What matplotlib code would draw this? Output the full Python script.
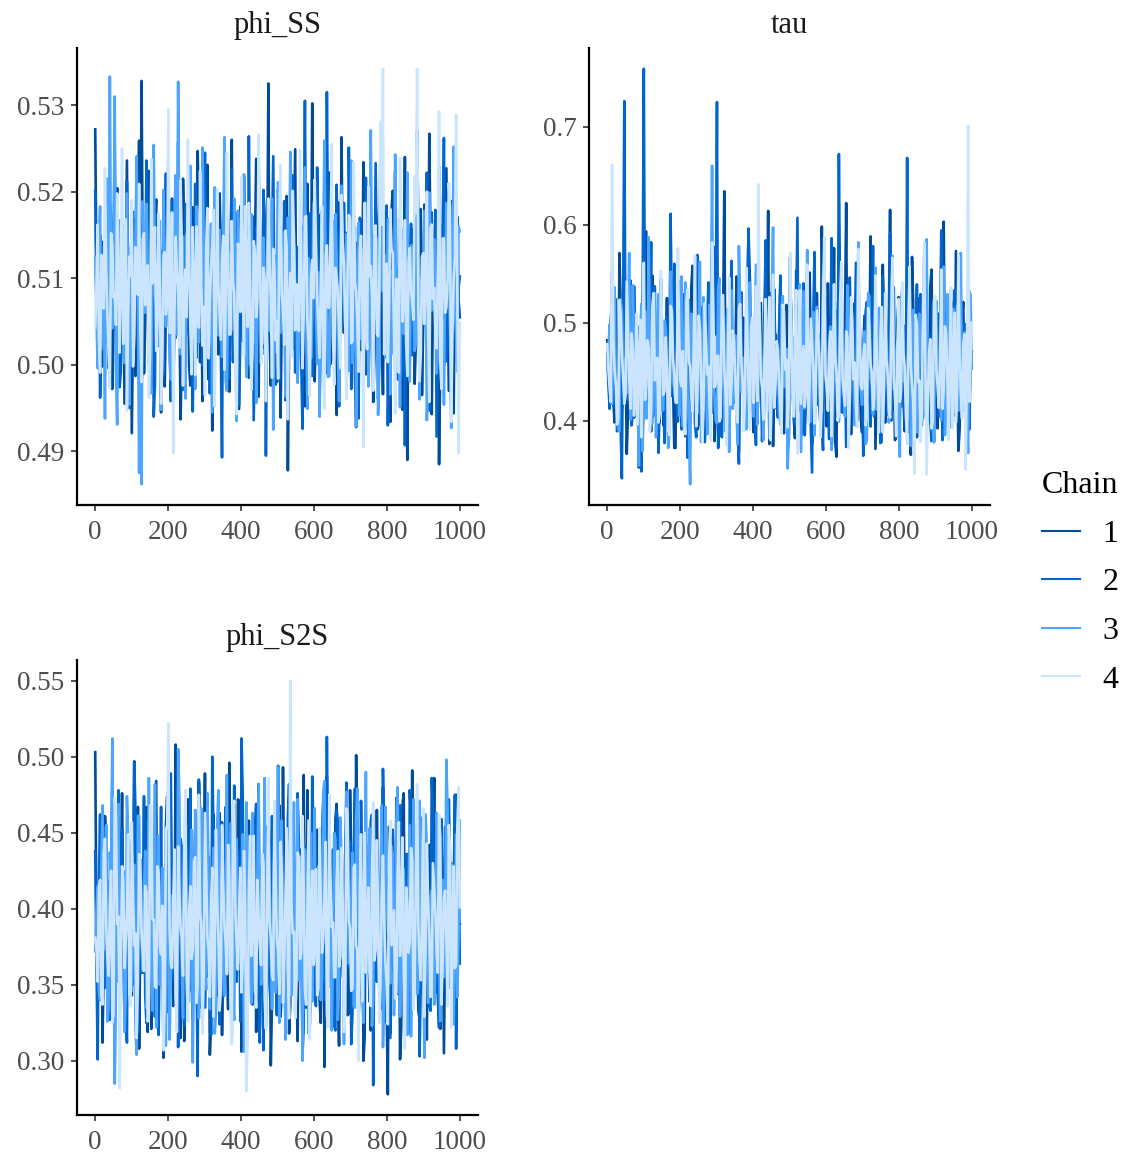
import numpy as np
import matplotlib
matplotlib.use("Agg")
import matplotlib.pyplot as plt
from matplotlib.lines import Line2D

plt.rcParams['font.family'] = ['Liberation Serif', 'DejaVu Serif']

chains = ["1", "2", "3", "4"]
chain_colors = ["#004c99", "#0065cc", "#4ca5ff", "#cce5ff"]
n_iter = 1000

# ---- phi_SS draws (units of 1e-4); "a" = even readings, "b" = odd readings
phi_SS_1a = [5272,5035,5150,4998,5118,5061,5187,4972,5093,5204,
5010,5142,4955,5236,5079,4921,5168,5047,5259,5328,
4990,5112,5224,4968,5083,5191,5022,4945,5137,5071,
5254,5006,4982,5163,5098,4937,5215,5052,5129,4976,
5182,5039,5247,5003,4958,5107,5231,5065,4924,5154,
5088,5198,4994,5121,5043,4969,5260,5014,5175,4949,
5102,5218,5059,4985,5143,5027,5238,4963,5086,5196,
5019,5325,4976,5110,5057,5203,4939,5131,5069,4878,
5166,5032,5249,4997,5124,5073,4952,5209,5045,5302,
4981,5114,5026,5178,4960,5091,5222,5008,5151,4942,
5084,5263,5037,4973,5139,5062,5192,4928,5105,5017,
5234,4989,5147,5070,4957,5186,5041,5278,4966,5118,
5055,4934,5201,5080,5011,5169,4948,5240,4890,5096,
5132,4978,5214,5051,4965,5185,5023,5267,4943,5109,
5076,4885,5158,5000,5227,4970,5189,4944,5121,5075]
phi_SS_1b = [5110,5064,5021,5143,5089,4996,5172,5038,5117,5075,
5003,5158,5094,5031,5126,5049,4987,5185,5070,5112,
5046,5139,5008,5097,5164,5025,5081,5130,4975,5106,
5059,5192,5034,5118,5072,5015,5147,5091,4999,5133,
5066,5028,5177,5085,5040,5121,4983,5101,5156,5052,
5012,5136,5079,5169,5043,5095,5006,5124,5061,5183,
5027,5108,5150,4991,5073,5137,5048,5114,5019,5166,
5087,5035,5128,5070,4980,5145,5057,5103,5195,5029,
5092,5140,5011,5076,5160,5044,5119,4994,5083,5131,
5062,5174,5023,5098,5054,5149,5001,5115,5068,5188,
5037,5104,5153,5016,5080,5127,4989,5141,5058,5099,
5174,5032,5086,5122,5009,5163,5071,5045,5135,5093,
5020,5178,5063,5110,5039,5152,5084,4997,5129,5067,
5157,5026,5102,5180,5050,5090,5014,5138,5074,5042,
5116,5002,5161,5060,5097,5132,5036,5107,5171,5055]
phi_SS_2a = [5201,5084,4962,5137,5025,5179,4993,5110,5246,5048,
4974,5163,5089,5212,4950,5127,5034,5190,5067,4981,
5152,5236,5002,5098,4940,5173,5056,5119,4989,5221,
5073,4958,5144,5031,5257,5090,4971,5186,5045,5128,
4946,5209,5062,5154,4999,5245,5081,4967,5134,5020,
5196,5052,4893,5168,5101,4984,5227,5038,5140,4953,
5112,5189,5006,5264,5070,4936,5159,5094,5013,5202,
4895,5126,5050,5241,4977,5108,5183,5029,4959,5148,
5087,5219,4991,5136,5060,4926,5305,5042,5174,4987,
5117,5228,4963,5079,5157,5315,4998,5132,5015,5208,
4952,5096,5187,5035,5251,4972,5123,5058,4938,5165,
5082,5216,4996,5141,5027,5233,4961,5103,5177,5044,
4930,5160,5069,5224,4983,5120,5039,4907,5195,5092,
5011,5146,5270,4968,5115,5053,5222,4947,5176,5086,
4917,5139,5031,5262,5004,5167,4959,5105,5198,5088]
phi_SS_2b = [5071,5128,5035,5096,5162,5010,5083,5141,5047,5119,
4992,5154,5066,5105,5023,5177,5058,5093,5136,5001,
5088,5165,5042,5112,4979,5131,5069,5016,5148,5081,
5029,5190,5055,5101,5139,4996,5074,5158,5033,5115,
5063,5008,5146,5092,5181,5040,5124,5057,4985,5137,
5097,5019,5168,5076,5044,5120,5003,5153,5085,5031,
5134,5065,4994,5109,5172,5050,5087,5126,5012,5160,
5078,5036,5142,5061,5103,4982,5118,5189,5046,5094,
5024,5150,5070,5113,5005,5135,5089,5052,5176,5018,
5099,5145,5039,5082,4990,5127,5064,5166,5027,5108,
5155,5048,5091,5011,5138,5073,5121,4998,5170,5056,
5032,5117,5084,5149,5043,5100,5007,5131,5068,5184,
5015,5095,5143,5059,5111,4986,5125,5079,5037,5163,
5090,5022,5152,5072,5106,5045,4995,5134,5062,5179,
5030,5098,5140,5053,5119,5013,5087,5157,5041,5102]
phi_SS_3a = [5124,4996,5183,5057,4938,5215,5333,5042,5310,4931,
5167,5076,5002,5198,4954,5139,5089,5241,4875,4862,
5108,5186,5023,4967,5254,5071,5135,4948,5202,5044,
5161,4983,5093,5219,5327,5012,5148,4961,5087,5230,
5035,4972,5176,5098,5251,4990,5119,5061,4945,5205,
5080,5156,5009,5263,4970,5114,5040,5192,4935,5133,
5068,5220,4986,5105,5174,5026,4956,5239,5083,5147,
4998,5189,5051,4925,5126,5211,5037,5098,4963,5170,
5246,5018,5092,4979,5158,5073,5228,4949,5113,5055,
5193,5001,4940,5142,5259,5066,4987,5179,5030,5122,
4958,5207,5078,5151,4993,5236,5047,4929,5164,5099,
5020,5187,4975,5271,5060,5131,4942,5213,5085,5008,
5168,4966,5109,5243,5038,4951,5155,5091,5222,4981,
5137,5016,5264,4960,5101,5178,4936,5199,5063,5145,
4990,5229,5049,4954,5187,5107,4927,5252,5034,5160]
phi_SS_3b = [5056,5143,5018,5099,5171,5037,5084,5125,4993,5112,
5067,5158,5029,5090,5136,5004,5147,5075,5041,5189,
5060,5116,4988,5132,5081,5022,5166,5049,5104,5144,
5011,5092,5174,5035,5127,5068,4997,5151,5086,5043,
5119,5183,5026,5097,5140,5052,5007,5163,5078,5121,
5034,5101,5156,4981,5088,5130,5063,5017,5178,5072,
5109,5046,5145,5000,5093,5137,5055,5168,5024,5083,
5126,5039,5192,5070,5014,5114,5059,5153,4990,5100,
5042,5139,5077,5027,5161,5095,5050,5123,5008,5185,
5066,5107,5033,5148,5089,4986,5129,5061,5174,5021,
5098,5142,5044,5115,5073,5002,5159,5085,5030,5133,
5064,5180,5019,5106,5053,5146,4995,5091,5127,5040,
5169,5076,5012,5118,5058,5152,5036,5094,4999,5138,
5071,5025,5165,5082,5048,5111,4984,5144,5067,5104,
5013,5176,5051,5096,5135,5038,5120,5062,4992,5154]
phi_SS_4a = [5043,5162,4991,5108,5227,5056,4973,5139,5081,5198,
5014,5250,5068,4947,5125,5190,5031,5093,5209,4980,
5152,5071,4962,5238,5100,5016,5175,4955,5126,5058,
5295,5037,4898,5148,5086,5213,4976,5110,5260,5046,
5159,4988,5095,5224,5022,4965,5181,5074,5137,4952,
5203,5061,5119,4994,5245,5035,5166,5083,4943,5128,
5217,5010,5097,5187,4971,5143,5055,5266,5002,5112,
4958,5192,5077,5134,5028,4984,5231,5064,5155,4937,
5106,5201,5040,5090,5248,4996,5170,5053,4964,5121,
5214,5079,5008,5183,4949,5138,5066,5255,4977,5101,
5041,5196,5117,4960,5173,5025,5234,5085,4992,5149,
4905,5058,5206,5114,4970,5161,5033,5281,5342,5088,
5003,5180,5129,4944,5096,5239,5050,5167,4987,5135,
5072,5218,5342,4981,5124,5047,5200,4957,5162,5089,
5019,5293,4972,5146,5066,5210,4934,5099,5289,4898]
phi_SS_4b = [5088,5032,5127,5065,5109,5011,5152,5078,5046,5119,
5097,5024,5168,5059,5103,4998,5136,5081,5040,5145,
5069,5115,5017,5094,5159,5051,5086,5002,5130,5074,
5037,5176,5062,5108,5020,5141,5092,5055,5123,4989,
5083,5160,5043,5100,5067,5134,5008,5113,5179,5048,
5091,5029,5149,5072,5118,5035,5096,4994,5140,5061,
5105,5183,5044,5087,5014,5128,5075,5156,5031,5098,
5064,5121,4985,5110,5050,5165,5082,5023,5137,5070,
5009,5147,5093,5039,5116,5058,5172,5026,5101,5077,
5143,5042,5089,5006,5125,5066,5153,5033,5112,5084,
4996,5139,5057,5106,5169,5028,5095,5048,5131,5071,
5187,5018,5102,5079,5144,5036,5091,5162,5012,5117,
5063,5134,5041,5099,4991,5150,5073,5027,5120,5085,
5052,5175,5068,5010,5129,5093,5045,5158,5076,5034,
5111,5003,5146,5060,5097,5181,5038,5124,5081,5049]

# ---- tau draws (units of 1e-3)
tau_1a = [482,431,527,398,455,571,412,489,366,441,
536,403,468,352,511,427,593,446,389,502,
421,478,545,395,460,418,604,437,372,494,
451,529,384,466,413,558,442,391,517,473,
405,487,428,562,379,452,509,416,634,438,
397,481,423,547,369,462,505,411,583,445,
388,496,432,520,401,457,614,426,374,488,
449,538,392,471,417,566,436,382,512,459,
407,493,425,551,376,468,530,414,598,440,
394,483,429,576,363,455,518,409,622,447,
386,499,434,541,402,464,507,419,588,443,
371,490,427,559,398,456,615,412,380,501,
450,532,389,475,421,567,437,383,525,461,
406,486,424,554,378,467,509,415,603,444,
395,482,431,573,369,458,521,410,390,476]
tau_1b = [447,503,422,468,391,517,436,479,408,532,
455,414,496,441,382,511,463,427,548,419,
472,398,488,437,525,411,459,372,506,446,
430,491,403,467,538,425,452,396,514,475,
418,483,442,561,407,461,389,498,433,470,
521,416,453,380,493,439,477,404,544,428,
466,399,509,450,421,487,376,531,445,412,
494,460,387,518,435,478,402,553,424,457,
386,501,443,469,410,527,448,393,486,431,
540,417,464,379,512,451,426,497,406,476,
437,520,400,458,388,507,444,473,415,546,
429,462,395,489,438,504,409,471,383,526,
454,420,492,440,365,515,449,432,499,413,
480,401,537,427,463,392,508,446,418,484,
434,521,405,468,390,502,442,475,411,456]
tau_2a = [468,412,553,437,389,501,341,726,423,479,
395,537,446,372,348,759,418,463,582,405,
449,367,524,433,490,386,611,427,458,399,
543,414,476,362,515,440,397,569,422,485,
378,498,451,408,577,725,430,383,507,445,
392,563,419,472,356,531,438,401,596,426,
461,375,519,447,410,584,432,388,494,456,
403,548,421,467,369,536,442,396,607,415,
479,385,514,439,347,572,428,463,400,528,
436,381,586,417,454,672,409,493,373,540,
444,398,561,425,470,364,512,437,394,578,
420,484,377,547,448,406,591,431,459,387,
523,435,402,668,418,474,361,539,443,395,
566,423,488,379,510,439,404,594,427,452,
391,533,446,409,557,419,480,372,502,462]
tau_2b = [436,489,415,524,447,394,501,462,421,543,
408,473,438,386,512,452,429,495,403,537,
459,418,482,377,506,444,425,560,411,468,
391,497,441,523,414,456,383,519,435,478,
402,541,448,420,488,372,509,439,466,397,
528,426,454,389,503,443,412,551,430,474,
407,492,450,379,516,437,461,399,534,422,
484,405,470,445,381,511,428,498,410,457,
540,419,479,393,505,446,416,487,370,526,
440,463,401,494,433,518,408,451,387,546,
427,476,412,500,449,395,521,431,467,404,
490,442,378,513,425,458,400,536,437,483,
414,497,453,388,508,430,471,406,529,444,
419,485,398,517,448,426,493,380,510,439,
465,402,533,423,478,409,499,447,391,470]
tau_3a = [452,498,417,536,441,389,512,463,428,571,
405,477,436,354,519,448,402,587,431,466,
383,529,445,411,494,372,552,439,418,506,
458,394,541,427,335,483,449,407,562,434,
471,386,518,660,425,397,545,456,413,490,
368,533,442,409,578,429,464,391,521,447,
404,559,432,475,380,510,451,416,597,437,
462,396,527,444,351,548,423,486,401,539,
453,412,574,430,469,385,516,446,408,563,
435,478,370,524,440,399,551,426,460,389,
505,449,415,582,433,472,376,530,443,406,
556,428,467,392,517,452,411,568,436,481,
363,535,445,403,546,424,463,388,509,450,
414,585,431,476,378,522,441,400,557,427,
468,393,514,447,410,571,434,485,367,528]
tau_3b = [471,418,506,437,392,524,455,428,490,401,
538,446,419,483,369,512,440,465,397,530,
424,476,410,502,449,386,519,433,460,405,
547,427,481,393,509,444,415,492,378,526,
451,420,497,439,400,535,430,468,389,514,
445,412,487,376,521,436,462,403,541,425,
479,396,510,447,421,494,382,528,441,457,
408,518,434,473,391,503,452,417,486,368,
532,438,464,399,511,429,476,413,545,443,
422,496,387,520,450,431,485,404,538,426,
469,395,507,442,416,491,380,527,435,459,
411,515,448,423,482,398,534,432,470,406,
523,440,418,499,374,513,446,428,488,402,
540,434,461,393,506,451,420,495,385,529,
437,474,409,517,444,425,490,397,532,453]
tau_4a = [478,432,661,451,396,523,468,417,542,443,
489,405,509,458,383,561,437,474,412,530,
449,398,553,426,485,391,517,462,420,576,
440,471,386,534,455,409,568,431,493,378,
520,447,415,582,434,466,399,527,453,374,
546,438,480,407,513,461,389,556,429,495,
418,537,641,444,401,524,459,380,549,435,
472,410,518,452,393,571,427,487,366,533,
446,414,559,439,478,397,512,465,421,587,
433,469,384,539,450,406,562,428,491,372,
526,442,417,575,436,463,395,515,457,411,
548,430,483,388,530,448,403,566,425,474,
419,541,454,376,557,437,346,498,441,409,
582,345,470,392,523,451,413,554,432,488,
380,536,446,398,569,429,477,350,701,462]
tau_4b = [452,419,487,438,401,509,445,426,494,412,
471,433,396,503,458,421,482,389,516,441,
464,407,498,430,453,385,512,447,418,489,
435,402,522,460,427,479,394,507,443,414,
486,455,380,514,437,466,403,528,429,473,
416,492,446,398,519,440,425,484,391,505,
457,420,497,434,468,409,526,450,413,481,
439,387,511,462,428,493,404,533,444,417,
476,431,397,504,454,423,488,383,518,448,
410,491,436,467,400,521,442,415,485,426,
502,459,393,513,432,478,406,495,449,421,
474,388,516,437,463,411,499,444,384,524,
430,470,405,490,456,418,508,439,378,515,
447,422,483,399,527,435,460,412,496,441,
472,392,510,433,465,402,488,451,419,500]

# ---- phi_S2S draws (units of 1e-3)
phi_S2S_1a = [503,354,428,312,461,387,335,449,298,412,
369,476,326,401,445,343,497,379,308,432,
358,467,389,321,418,484,347,395,302,455,
373,430,336,508,382,315,441,363,472,394,
327,451,374,419,338,489,366,304,437,391,
349,463,317,405,380,496,332,426,359,471,
306,413,385,458,341,398,319,482,370,434,
352,466,297,408,383,447,329,493,362,421,
337,459,376,313,439,388,351,478,324,404,
368,452,340,415,296,487,377,433,355,469,
310,396,381,456,331,424,365,501,346,411,
300,443,386,320,462,372,410,334,480,357,
278,318,449,378,425,301,468,361,436,342,
491,369,407,328,454,384,314,442,371,486,
345,417,393,305,460,375,430,339,475,389]
phi_S2S_1b = [392,347,421,368,439,331,405,376,458,352,
414,383,327,446,371,409,340,467,388,358,
431,319,402,377,452,345,415,390,336,474,
362,425,381,349,440,372,313,457,396,366,
418,338,483,374,404,355,434,326,462,389,
343,411,370,448,334,420,386,357,472,395,
329,437,364,408,350,455,378,322,428,391,
361,444,339,416,382,468,346,401,373,318,
451,393,354,427,367,488,335,412,380,442,
359,399,325,464,387,348,423,375,459,341,
407,363,436,330,478,384,352,413,369,449,
316,397,379,433,356,465,344,419,385,337,
454,371,403,360,441,323,476,394,351,426,
366,412,333,460,389,342,430,377,406,353,
447,321,418,381,469,348,400,365,435,390]
phi_S2S_2a = [438,301,462,376,348,419,327,485,364,402,
339,453,381,312,427,370,496,344,411,358,
474,325,394,441,350,406,317,467,386,423,
332,489,361,398,309,446,378,415,342,479,
356,431,290,464,389,335,418,372,500,347,
403,324,457,383,367,436,316,481,352,409,
512,374,328,448,392,343,469,360,420,307,
454,385,337,429,371,494,354,400,321,460,
379,413,346,476,365,305,442,390,331,487,
357,424,368,450,340,513,382,416,323,465,
373,404,349,483,362,311,437,387,330,471,
353,426,375,458,284,414,395,338,492,359,
421,315,452,380,344,468,366,408,326,478,
351,433,384,303,445,370,399,336,486,363,
418,322,459,391,348,472,355,412,308,447]
phi_S2S_2b = [365,414,340,453,382,327,431,393,356,478,
371,408,334,442,387,350,465,319,420,398,
343,459,376,411,329,447,385,361,426,338,
471,396,353,418,374,440,323,456,389,346,
413,369,485,335,401,379,433,317,449,391,
358,424,342,467,383,351,409,376,438,326,
474,394,360,421,337,455,386,312,430,372,
403,349,461,390,330,437,367,415,355,482,
378,406,341,446,384,322,428,397,363,451,
336,419,381,470,348,410,373,439,320,457,
392,357,425,368,444,332,479,388,345,416,
375,434,339,462,395,352,407,366,448,325,
423,383,358,473,344,412,377,436,318,458,
398,362,429,350,445,370,404,333,466,387,
341,420,380,454,357,432,324,475,393,364]
phi_S2S_3a = [372,415,340,468,389,326,437,512,285,451,
363,398,319,474,382,346,429,304,461,377,
413,335,486,360,392,322,448,371,426,310,
479,354,406,341,505,383,328,442,367,418,
299,465,387,349,433,361,476,334,401,318,
453,376,420,343,488,359,395,327,446,370,
411,306,470,384,338,427,365,482,350,404,
323,458,379,416,345,493,357,391,314,444,
373,422,332,472,386,300,439,362,409,339,
466,378,425,353,484,368,397,320,450,381,
347,431,311,477,364,405,336,459,388,414,
325,490,358,399,342,445,374,421,309,467,
385,351,436,366,480,329,403,393,317,455,
376,428,344,471,360,302,440,383,412,337,
463,370,419,355,498,348,390,324,449,380]
phi_S2S_3b = [398,346,431,373,455,336,414,387,352,469,
380,425,341,447,366,405,322,461,391,359,
438,377,419,333,482,395,350,427,369,444,
314,409,384,356,473,362,436,394,339,452,
375,417,328,466,389,347,421,370,440,331,
478,397,358,412,374,456,337,430,385,364,
449,320,403,379,463,345,426,392,354,486,
368,416,334,443,381,325,458,400,361,422,
343,470,388,353,434,376,411,318,450,396,
365,428,340,476,383,349,418,372,446,327,
460,393,357,424,367,437,335,479,386,351,
413,378,453,323,432,399,360,468,344,410,
382,441,330,457,390,355,426,371,415,316,
472,397,348,435,377,462,338,408,384,359,
445,326,419,391,465,352,429,374,342,458]
phi_S2S_4a = [381,352,419,337,446,368,402,325,473,390,
282,428,361,397,344,457,376,315,436,385,
359,411,331,468,393,348,424,370,307,452,
522,364,405,339,441,387,356,478,326,415,
374,434,350,399,318,463,382,342,427,366,
408,333,455,389,357,420,311,471,377,401,
345,438,280,412,369,448,335,394,363,430,
321,486,380,353,416,372,444,338,406,360,
550,384,328,437,367,461,347,398,314,425,
379,343,453,371,409,330,475,388,355,418,
362,440,319,466,392,346,427,376,300,449,
383,358,414,336,470,373,400,351,435,365,
324,458,387,341,421,369,447,308,403,378,
432,354,482,366,396,329,443,385,349,413,
371,462,337,407,380,455,322,428,363,480]
phi_S2S_4b = [374,412,343,437,389,356,425,331,461,395,
362,418,378,449,336,407,384,353,432,370,
415,326,468,393,349,428,375,402,340,455,
386,361,439,319,410,381,446,354,398,367,
431,338,475,390,358,421,372,404,329,452,
383,346,416,377,442,333,465,396,360,427,
368,401,315,448,388,352,419,376,436,341,
409,392,357,471,380,344,424,365,453,328,
400,385,350,434,371,413,337,458,394,363,
426,347,406,379,444,322,417,391,355,438,
369,403,332,462,387,348,429,373,411,339,
450,382,359,420,366,445,325,408,393,351,
433,376,399,345,457,384,362,414,371,440,
334,423,389,353,466,378,405,342,430,397,
358,447,368,412,336,439,383,361,454,401]

x_ticks = [0, 200, 400, 600, 800, 1000]
panels = [
    ("phi_SS", [(phi_SS_1a, phi_SS_1b), (phi_SS_2a, phi_SS_2b),
                (phi_SS_3a, phi_SS_3b), (phi_SS_4a, phi_SS_4b)], 1e-4,
     [0.49, 0.50, 0.51, 0.52, 0.53], ["0.49", "0.50", "0.51", "0.52", "0.53"]),
    ("tau", [(tau_1a, tau_1b), (tau_2a, tau_2b),
             (tau_3a, tau_3b), (tau_4a, tau_4b)], 1e-3,
     [0.4, 0.5, 0.6, 0.7], ["0.4", "0.5", "0.6", "0.7"]),
    ("phi_S2S", [(phi_S2S_1a, phi_S2S_1b), (phi_S2S_2a, phi_S2S_2b),
                 (phi_S2S_3a, phi_S2S_3b), (phi_S2S_4a, phi_S2S_4b)], 1e-3,
     [0.30, 0.35, 0.40, 0.45, 0.50, 0.55],
     ["0.30", "0.35", "0.40", "0.45", "0.50", "0.55"]),
]


def interleave(a, b):
    out = []
    for i in range(max(len(a), len(b))):
        if i < len(a):
            out.append(a[i])
        if i < len(b):
            out.append(b[i])
    return np.array(out, dtype=float)


W, H = 1130, 1153
fig = plt.figure(figsize=(W / 100, H / 100), dpi=100)
fig.patch.set_facecolor("white")

rects = [
    (77, 48, 478, 505),
    (589, 48, 990, 505),
    (77, 660, 478, 1115),
]

for (title, series, scale, yt, ytl), (l, t, r, b) in zip(panels, rects):
    ax = fig.add_axes([l / W, 1 - b / H, (r - l) / W, (b - t) / H])
    for (va, vb), col in zip(series, chain_colors):
        v = interleave(va, vb) * scale
        it = np.linspace(1, n_iter, len(v))
        ax.plot(it, v, color=col, lw=1.9)
    ax.margins(x=0.05, y=0.05)
    ax.set_xticks(x_ticks)
    ax.set_xticklabels([str(t_) for t_ in x_ticks])
    ax.set_yticks(yt)
    ax.set_yticklabels(ytl)
    for s in ["top", "right"]:
        ax.spines[s].set_visible(False)
    for s in ["left", "bottom"]:
        ax.spines[s].set_linewidth(1.6)
        ax.spines[s].set_color("black")
    ax.tick_params(axis="both", direction="out", length=4, width=1.2,
                   color="#333333", labelcolor="#4D4D4D", labelsize=19.5)
    ax.tick_params(axis="y", pad=5)
    ax.tick_params(axis="x", pad=7)
    ax.set_title(title, fontsize=22, color="#1A1A1A", pad=11)

handles = [Line2D([0], [0], color=c, lw=1.5) for c in chain_colors]
leg = fig.legend(handles, chains, title="Chain", loc="center left",
                 bbox_to_anchor=(1042 / W, 1 - 583 / H), frameon=False,
                 fontsize=23, title_fontsize=23, handlelength=1.2,
                 handletextpad=0.7, labelspacing=0.6, borderpad=0.0,
                 borderaxespad=0.0)
leg._legend_box.align = "left"

fig.savefig("out.png", dpi=100, facecolor="white")
